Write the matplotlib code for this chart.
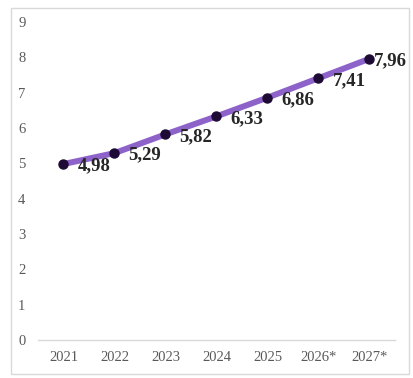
import matplotlib.pyplot as plt
from matplotlib.patches import Rectangle
import matplotlib.transforms as mtransforms

# datos
anios = ['2021', '2022', '2023', '2024', '2025', '2026*', '2027*']
valores = [4.98, 5.29, 5.82, 6.33, 6.86, 7.41, 7.96]
etiquetas = ['4,98', '5,29', '5,82', '6,33', '6,86', '7,41', '7,96']

plt.rcParams['font.family'] = ['Liberation Serif', 'DejaVu Serif']

fig = plt.figure(figsize=(4.14, 3.78), dpi=100)
ax = fig.add_axes([38/414, 1-340/378, 357/414, 318/378])

# marco del gráfico
fig.patches.append(Rectangle((11/414, 1-374/378), 398/414, 366/378,
                             transform=fig.transFigure, fill=False,
                             edgecolor='#d9d9d9', linewidth=1))

x = list(range(len(anios)))
ax.plot(x, valores, color='#8e63c9', linewidth=4.3, solid_capstyle='round', zorder=2)
ax.plot(x, valores, 'o', color='#1e0b35', markersize=6.5, zorder=3)

for i, (v, t) in enumerate(zip(valores, etiquetas)):
    dx = 3 if i == len(valores) - 1 else 10
    off = mtransforms.offset_copy(ax.transData, fig=fig, x=dx, y=-1.5, units='points')
    ax.text(i, v, t, transform=off, fontsize=13.5, fontweight='bold',
            color='#262626', ha='left', va='center', zorder=4)

ax.set_xlim(-0.5, len(anios) - 0.5)
ax.set_ylim(0, 9)
ax.set_yticks(range(0, 10))
ax.set_xticks(x)
ax.set_xticklabels(anios)

for s in ['top', 'right', 'left']:
    ax.spines[s].set_visible(False)
ax.spines['bottom'].set_color('#d9d9d9')
ax.spines['bottom'].set_linewidth(1)
ax.tick_params(axis='both', length=0, labelsize=10.5, labelcolor='#595959')
ax.tick_params(axis='y', pad=9)
ax.tick_params(axis='x', pad=8)

fig.savefig('out.png', dpi=100)
